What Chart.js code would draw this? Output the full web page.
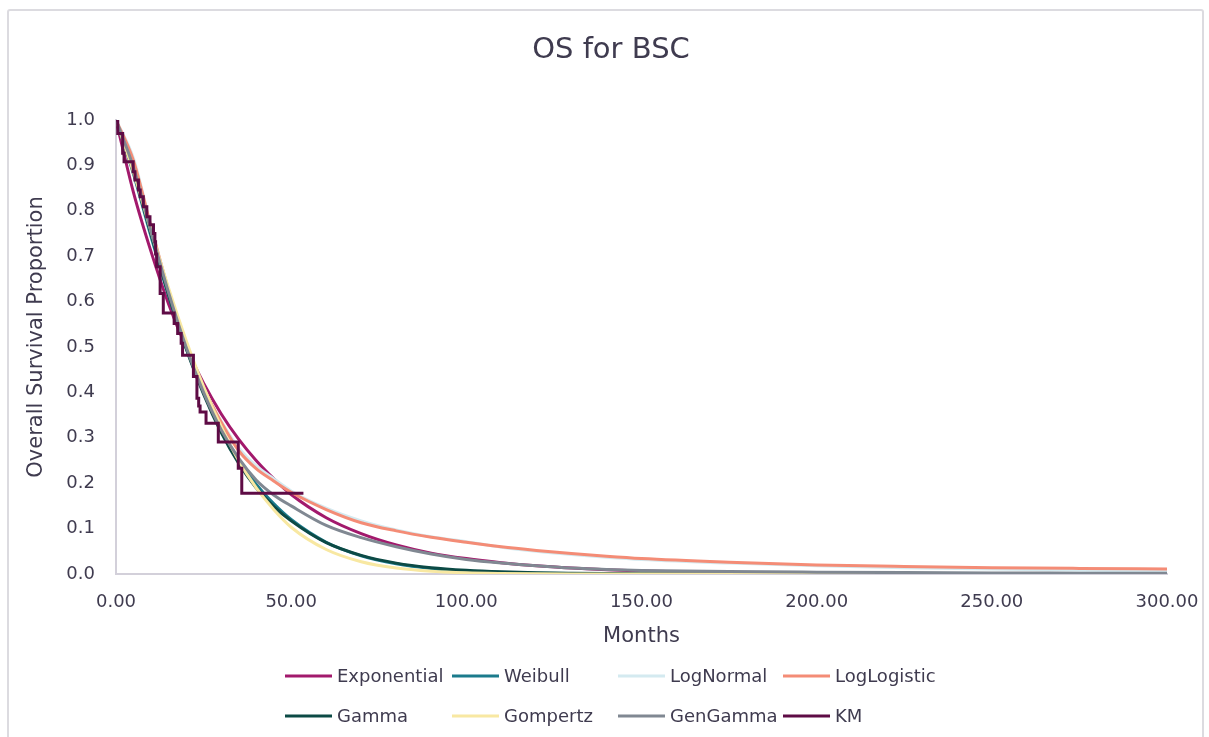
<!DOCTYPE html>
<html><head><meta charset="utf-8">
<script src="https://cdn.jsdelivr.net/npm/chart.js@4.4.1/dist/chart.umd.min.js"></script>
<style>
html,body{margin:0;padding:0;background:#fff;}
#wrap{position:relative;width:1209px;height:737px;overflow:hidden;}
#frame{position:absolute;left:7px;top:9px;width:1197px;height:760px;border:2px solid #dcdbe0;border-radius:3px;box-sizing:border-box;pointer-events:none;}
</style></head><body>
<div id="wrap"><canvas id="c"></canvas><div id="frame"></div></div>
<script>
// ---- data ----
const months       = [0, 5, 10, 15, 20, 25, 30, 35, 40, 45, 50, 60, 70, 80, 90, 100, 110, 120, 130, 140, 150, 175, 200, 225, 250, 275, 300];
const exponential  = [1.0, 0.84, 0.71, 0.595, 0.50, 0.42, 0.353, 0.297, 0.25, 0.21, 0.175, 0.124, 0.089, 0.064, 0.046, 0.034, 0.025, 0.018, 0.013, 0.0093, 0.0067, 0.003, 0.0013, 0.0006, 0.0003, 0.0001, 0.0];
const weibull      = [1.0, 0.881, 0.743, 0.613, 0.498, 0.40, 0.318, 0.252, 0.198, 0.155, 0.12, 0.07, 0.04, 0.0225, 0.0122, 0.0066, 0.0035, 0.0018, 0.0009, 0.0005, 0.0002, 0.0, 0.0, 0.0, 0.0, 0.0, 0.0];
const logNormal    = [1.0, 0.915, 0.765, 0.625, 0.505, 0.41, 0.337, 0.278, 0.238, 0.21, 0.183, 0.145, 0.117, 0.097, 0.082, 0.071, 0.059, 0.050, 0.043, 0.037, 0.032, 0.024, 0.018, 0.014, 0.011, 0.0085, 0.0065];
const logLogistic  = [1.0, 0.91, 0.765, 0.625, 0.505, 0.41, 0.335, 0.272, 0.232, 0.205, 0.18, 0.142, 0.113, 0.095, 0.081, 0.070, 0.060, 0.052, 0.045, 0.039, 0.034, 0.026, 0.020, 0.0165, 0.014, 0.0123, 0.011];
const gamma        = [1.0, 0.885, 0.75, 0.615, 0.497, 0.396, 0.312, 0.244, 0.19, 0.149, 0.117, 0.069, 0.041, 0.024, 0.014, 0.0083, 0.0048, 0.0027, 0.0016, 0.0009, 0.0005, 0.0001, 0.0, 0.0, 0.0, 0.0, 0.0];
const gompertz     = [1.0, 0.885, 0.755, 0.63, 0.515, 0.413, 0.325, 0.25, 0.19, 0.142, 0.103, 0.054, 0.027, 0.013, 0.006, 0.0026, 0.0011, 0.0004, 0.0001, 0.0, 0.0, 0.0, 0.0, 0.0, 0.0, 0.0, 0.0];
const genGamma     = [1.0, 0.895, 0.755, 0.62, 0.50, 0.40, 0.318, 0.255, 0.207, 0.174, 0.15, 0.107, 0.08, 0.06, 0.044, 0.032, 0.024, 0.018, 0.013, 0.0098, 0.0078, 0.0053, 0.004, 0.0031, 0.0024, 0.0019, 0.0015];
const kmMonths     = [0, 0.5, 1.9, 2.3, 4.9, 5.4, 6.4, 6.9, 7.8, 8.8, 9.7, 10.7, 11.1, 11.3, 11.6, 12.6, 13.5, 16.6, 17.6, 18.6, 19.0, 22.1, 23.1, 23.6, 24.0, 25.7, 29.2, 34.9, 35.9, 53.5];
const kmSurvival   = [1.0, 0.97, 0.927, 0.908, 0.886, 0.868, 0.846, 0.831, 0.809, 0.787, 0.769, 0.75, 0.732, 0.705, 0.677, 0.618, 0.575, 0.552, 0.53, 0.508, 0.482, 0.435, 0.387, 0.37, 0.357, 0.332, 0.291, 0.233, 0.178, 0.178];
const xTickValues  = [0, 50, 100, 150, 200, 250, 300];
const yTickValues  = [0, 0.1, 0.2, 0.3, 0.4, 0.5, 0.6, 0.7, 0.8, 0.9, 1.0];
const seriesNames  = ['Exponential', 'Weibull', 'LogNormal', 'LogLogistic', 'Gamma', 'Gompertz', 'GenGamma', 'KM'];
const seriesValues = [exponential, weibull, logNormal, logLogistic, gamma, gompertz, genGamma];
const seriesColors = ['#a2196c', '#1b7b8c', '#d4eaf0', '#f48c76', '#0c4a45', '#f8e8a2', '#808892', '#5e0b45'];
const chartTitle   = 'OS for BSC';

const FONT = 'DejaVu Sans';
const TEXT = '#3f3b4f';

const datasets = seriesValues.map((vals, i) => ({
  label: seriesNames[i],
  data: months.map((m, j) => ({x: m, y: vals[j]})),
  borderColor: seriesColors[i],
  backgroundColor: seriesColors[i],
  borderWidth: 3,
  pointRadius: 0,
  cubicInterpolationMode: 'monotone',
  order: 8 - i
}));
datasets.push({
  label: seriesNames[7],
  data: kmMonths.map((m, j) => ({x: m, y: kmSurvival[j]})),
  borderColor: seriesColors[7],
  backgroundColor: seriesColors[7],
  borderWidth: 3,
  pointRadius: 0,
  stepped: true,
  order: 0
});

const decorPlugin = {
  id: 'decor',
  afterDraw(chart) {
    const ctx = chart.ctx;
    ctx.save();
    // title
    ctx.fillStyle = TEXT;
    ctx.font = '29px "' + FONT + '"';
    ctx.textAlign = 'center';
    ctx.textBaseline = 'middle';
    ctx.fillText(chartTitle, 611, 50);
    // legend in a 4-column grid
    const colX = [285, 452, 618, 783];
    const rowY = [676, 716];
    ctx.font = '18px "' + FONT + '"';
    ctx.textAlign = 'left';
    chart.data.datasets.forEach((ds, i) => {
      const x = colX[i % 4], y = rowY[Math.floor(i / 4)];
      ctx.strokeStyle = ds.borderColor;
      ctx.lineWidth = 3;
      ctx.beginPath();
      ctx.moveTo(x, y);
      ctx.lineTo(x + 47, y);
      ctx.stroke();
      ctx.fillStyle = TEXT;
      ctx.fillText(ds.label, x + 52, y + 1);
    });
    ctx.restore();
  }
};

new Chart(document.getElementById('c'), {
  type: 'line',
  data: {datasets},
  plugins: [decorPlugin],
  options: {
    responsive: true,
    maintainAspectRatio: false,
    animation: false,
    layout: {padding: {left: 0, right: 42, top: 120, bottom: 77}},
    plugins: {
      legend: {display: false},
      tooltip: {enabled: false},
      title: {display: false}
    },
    scales: {
      x: {
        type: 'linear',
        min: 0, max: 300,
        afterBuildTicks: (s) => { s.ticks = xTickValues.map(v => ({value: v})); },
        afterFit: (s) => { s.height = 86; },
        grid: {display: false, drawTicks: true, tickLength: 9},
        border: {display: true, color: '#d3d0da', width: 2},
        ticks: {
          padding: 9,
          color: TEXT,
          font: {family: FONT, size: 18},
          maxRotation: 0,
          callback: (v) => Number(v).toFixed(2)
        },
        title: {
          display: true,
          text: 'Months',
          color: TEXT,
          font: {family: FONT, size: 21},
          padding: {top: 0, bottom: 11}
        }
      },
      y: {
        min: 0, max: 1,
        afterBuildTicks: (s) => { s.ticks = yTickValues.map(v => ({value: v})); },
        afterFit: (s) => { s.width = 116; },
        grid: {display: false, drawTicks: false},
        border: {display: true, color: '#d3d0da', width: 2},
        ticks: {
          padding: 21,
          color: TEXT,
          font: {family: FONT, size: 18},
          callback: (v) => Number(v).toFixed(1)
        },
        title: {
          display: true,
          text: '   Overall Survival Proportion',
          color: TEXT,
          font: {family: FONT, size: 21},
          padding: {top: 24, bottom: 0}
        }
      }
    }
  }
});
</script>
</body></html>
